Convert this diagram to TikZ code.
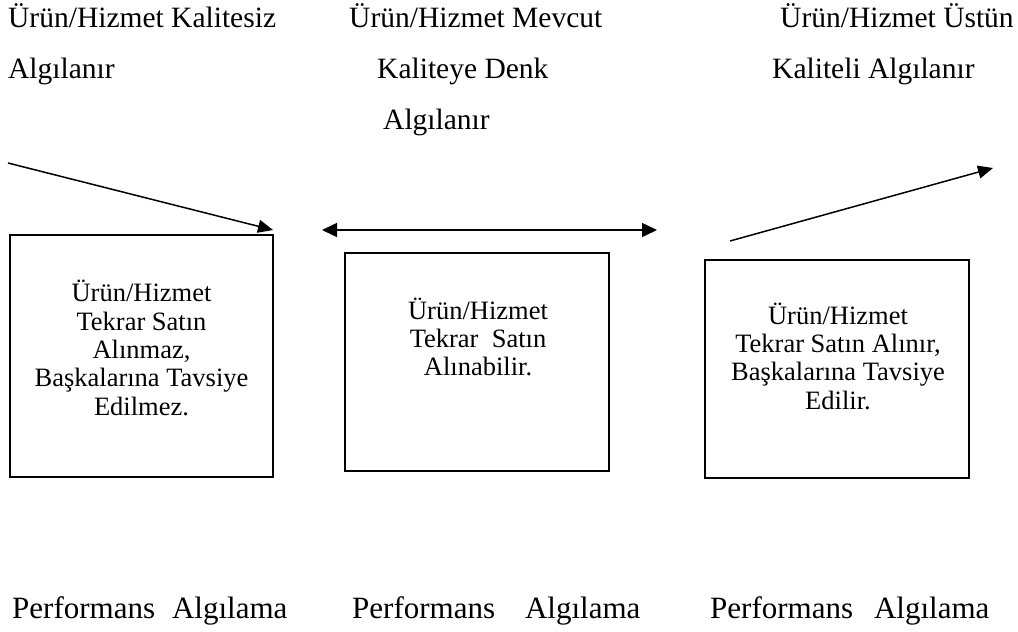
\documentclass[tikz,border=0pt]{standalone}
\usepackage{fontspec}
\setmainfont{Liberation Serif}
\usetikzlibrary{arrows.meta}
\begin{document}
\begin{tikzpicture}[x=1pt,y=-1pt,
  label/.style={anchor=base west,inner sep=0pt,font=\fontsize{29.5}{35}\selectfont},
  perf/.style={anchor=base west,inner sep=0pt,font=\fontsize{31}{36}\selectfont},
  boxtext/.style={align=center,inner sep=0pt,font=\fontsize{26.5}{28.3}\selectfont},
  frame/.style={draw,line width=1.4pt},
  arr/.style={line width=1.5pt,-{Triangle[length=15pt,width=13pt]}},
  darr/.style={line width=1.5pt,{Triangle[length=15pt,width=14pt]}-{Triangle[length=15pt,width=14pt]}}]
\useasboundingbox (0,0) rectangle (1018,632);

% headings above the columns
\node[label] (h1a) at (8,27) {Ürün/Hizmet Kalitesiz};
\node[label] (h1b) at (8,78) {Algılanır};
\node[label] (h2a) at (349,27) {Ürün/Hizmet Mevcut};
\node[label] (h2b) at (377,78) {Kaliteye Denk};
\node[label] (h2c) at (383,129) {Algılanır};
\node[label] (h3a) at (780,27) {Ürün/Hizmet Üstün};
\node[label] (h3b) at (772,78) {Kaliteli Algılanır};

% outcome boxes
\draw[frame] (10,235) rectangle (273,477);
\draw[frame] (345,253) rectangle (609,471);
\draw[frame] (705,260) rectangle (969,478);

\node[boxtext] (t1) at (141.5,348) {Ürün/Hizmet\\Tekrar Satın\\Alınmaz,\\Başkalarına Tavsiye\\Edilmez.};
\node[boxtext] (t2) at (478,337) {Ürün/Hizmet\\Tekrar\ \ Satın\\Alınabilir.};
\node[boxtext] (t3) at (838,356) {Ürün/Hizmet\\Tekrar Satın Alınır,\\Başkalarına Tavsiye\\Edilir.};

% trend arrows
\coordinate (a1s) at (8,163);
\coordinate (a1e) at (273,230);
\coordinate (a2s) at (322,230);
\coordinate (a2e) at (657,230);
\coordinate (a3s) at (730,241);
\coordinate (a3e) at (993,168);
\draw[arr] (a1s) -- (a1e);
\draw[darr] (a2s) -- (a2e);
\draw[arr] (a3s) -- (a3e);

% performance captions
\node[perf] (p1) at (12,618) {Performans\hspace{17pt}Algılama};
\node[perf] (p2) at (352,618) {Performans\hspace{30pt}Algılama};
\node[perf] (p3) at (710,618) {Performans\hspace{21pt}Algılama};
\end{tikzpicture}
\end{document}
